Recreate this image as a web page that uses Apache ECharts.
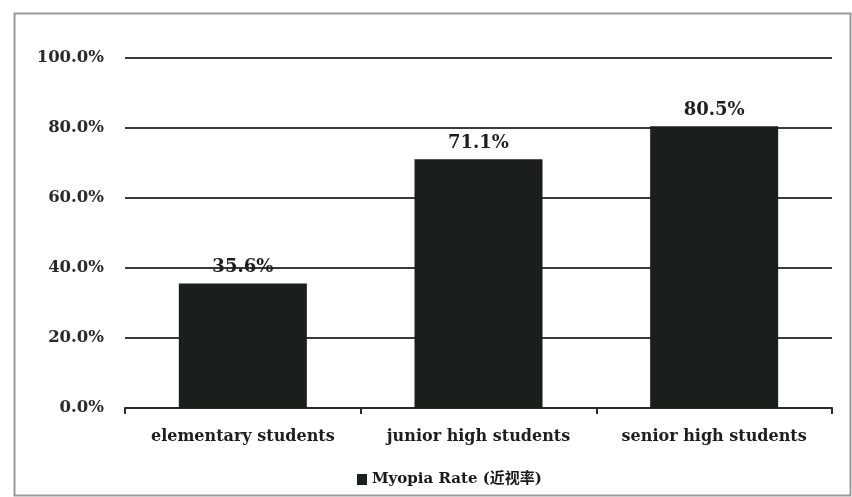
<!DOCTYPE html>
<html>
<head>
<meta charset="utf-8">
<script src="https://cdn.jsdelivr.net/npm/echarts@6/dist/echarts.min.js"></script>
<style>html,body{margin:0;padding:0;background:#fff}#c{width:852px;height:497px}</style>
</head>
<body>
<div id="c"></div>
<script>
const categories = ['elementary students', 'junior high students', 'senior high students'];
const myopiaRate = [35.6, 71.1, 80.5];
const seriesName = 'Myopia Rate (近视率)';
const yTicks = [0, 20, 40, 60, 80, 100];

const chart = echarts.init(document.getElementById('c'));
const serif = '"DejaVu Serif", "Liberation Serif", "Noto Sans CJK SC", serif';
chart.setOption({
  animation: false,
  backgroundColor: '#fff',
  graphic: [{
    type: 'rect', left: 12, top: 11, shape: {width: 836, height: 482},
    style: {fill: 'none', stroke: '#999', lineWidth: 2}, z: -1
  }],
  grid: {left: 125, right: 20, top: 58, bottom: 89},
  legend: {
    top: 467, left: 352,
    icon: 'rect', itemWidth: 10, itemHeight: 11, itemGap: 4,
    textStyle: {fontFamily: serif, fontSize: 15, color: '#1a1a1a', fontWeight: 'bold'},
    data: [seriesName]
  },
  xAxis: {
    type: 'category', data: categories,
    axisLine: {lineStyle: {color: '#2a2a2a', width: 2}},
    axisTick: {show: true, interval: 0, length: 6, lineStyle: {color: '#2a2a2a', width: 2}},
    axisLabel: {interval: 0, hideOverlap: false, fontFamily: serif, fontSize: 16, fontWeight: 'bold', color: '#1e1e1e', margin: 21}
  },
  yAxis: {
    type: 'value', min: yTicks[0], max: yTicks[yTicks.length - 1], interval: 20,
    axisLine: {show: false}, axisTick: {show: false},
    splitLine: {lineStyle: {color: '#3a3a3a', width: 2}},
    axisLabel: {fontFamily: serif, fontSize: 16.5, fontWeight: 'bold', color: '#2a2a2a', margin: 21,
      formatter: v => v.toFixed(1) + '%'}
  },
  series: [{
    name: seriesName, type: 'bar', data: myopiaRate,
    barWidth: 128,
    itemStyle: {color: '#1b1f1b'},
    label: {show: true, position: 'top', distance: 7, fontFamily: serif, fontSize: 18, fontWeight: 'bold', color: '#1e1e1e',
      formatter: p => p.value.toFixed(1) + '%'}
  }]
});
</script>
</body>
</html>
